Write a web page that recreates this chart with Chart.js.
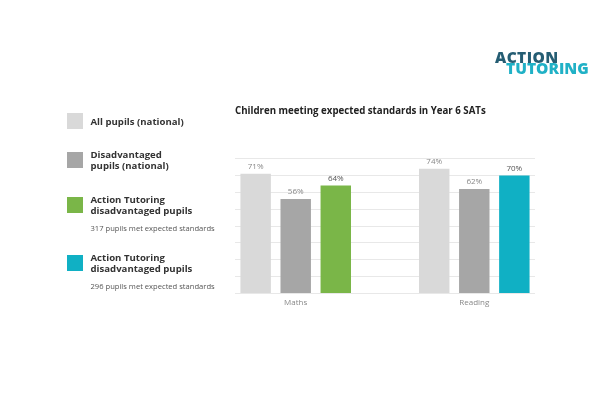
<!DOCTYPE html>
<html>
<head>
<meta charset="utf-8">
<script src="https://cdn.jsdelivr.net/npm/chart.js@4"></script>
<style>
  html, body { margin: 0; padding: 0; background: #fff; }
  body { width: 600px; height: 400px; position: relative; overflow: hidden; font-family: "Open Sans", sans-serif; }
  #chart { position: absolute; left: 0; top: 0; }
  .logo { position: absolute; font-weight: 800; line-height: 1; }
  .logo.top { left: 495px; top: 49.5px; font-size: 15.5px; color: #255d73; letter-spacing: 0.4px; }
  .logo.bottom { left: 506px; top: 61px; font-size: 15.5px; color: #20b1c6; }
  .legend-item { position: absolute; left: 67px; }
  .legend-item:nth-child(1) { top: 113px; }
  .legend-item:nth-child(2) { top: 149px; }
  .legend-item:nth-child(3) { top: 193.5px; }
  .legend-item:nth-child(4) { top: 252px; }
  .legend-row { display: flex; align-items: center; }
  .swatch { width: 16px; height: 16px; margin-right: 7.5px; flex: none; }
  .legend-name { font-size: 9.6px; font-weight: 700; line-height: 11px; color: #333; white-space: pre-line; }
  .legend-note { margin: 8px 0 0 23.5px; font-size: 7.6px; line-height: 9px; color: #555; white-space: nowrap; }
</style>
</head>
<body>
<canvas id="chart" width="600" height="400"></canvas>
<div id="legend"></div>
<div class="logo top">ACTION</div>
<div class="logo bottom">TUTORING</div>
<script>
const subjects = ['Maths', 'Reading'];
const allPupils = [71, 74];
const disadvantagedPupils = [56, 62];
const actionTutoringPupils = [64, 70];

const legendNames = ['All pupils (national)', 'Disadvantaged\npupils (national)', 'Action Tutoring\ndisadvantaged pupils', 'Action Tutoring\ndisadvantaged pupils'];
const legendNotes = ['', '', '317 pupils met expected standards', '296 pupils met expected standards'];
const legendColors = ['#d9d9d9', '#a6a6a6', '#7ab648', '#10b0c4'];

// build the html legend
const legendElement = document.getElementById('legend');
legendNames.forEach((name, i) => {
  let item = document.createElement('div');
  item.className = 'legend-item';
  item.innerHTML = '<div class="legend-row"><div class="swatch"></div><div class="legend-name"></div></div>';
  item.querySelector('.swatch').style.background = legendColors[i];
  item.querySelector('.legend-name').textContent = name;
  if (legendNotes[i]) {
    let note = document.createElement('div');
    note.className = 'legend-note';
    note.textContent = legendNotes[i];
    item.appendChild(note);
  }
  legendElement.appendChild(item);
});

// percent labels above every bar
const valueLabels = {
  id: 'valueLabels',
  afterDatasetsDraw(chart) {
    const ctx = chart.ctx;
    ctx.save();
    ctx.font = '8px "Open Sans"';
    ctx.textAlign = 'center';
    ctx.textBaseline = 'middle';
    chart.data.datasets.forEach((ds, d) => {
      ctx.fillStyle = d === 2 ? '#555' : '#888';
      chart.getDatasetMeta(d).data.forEach((bar, i) => {
        ctx.fillText(ds.data[i] + '%', bar.x, bar.y - 7);
      });
    });
    ctx.restore();
  }
};

var ctx = document.getElementById('chart').getContext('2d');

var myChart = new Chart(ctx, {
  type: 'bar',
  data: {
    labels: subjects.map((s, i) => i),
    datasets: [
      { label: legendNames[0], data: allPupils, backgroundColor: legendColors[0] },
      { label: legendNames[1], data: disadvantagedPupils, backgroundColor: legendColors[1] },
      { label: legendNames[2], data: actionTutoringPupils, backgroundColor: [legendColors[2], legendColors[3]] }
    ]
  },
  options: {
    responsive: false,
    animation: false,
    events: [],
    categoryPercentage: 0.673,
    barPercentage: 0.76,
    layout: { padding: { left: 235, right: 65, top: 105, bottom: 87 } },
    plugins: {
      legend: { display: false },
      tooltip: { enabled: false },
      title: {
        display: true,
        text: 'Children meeting expected standards in Year 6 SATs',
        align: 'start',
        color: '#222',
        font: { family: '"Open Sans"', size: 9.7, weight: 'bold' },
        padding: { top: 0, bottom: 42 }
      }
    },
    scales: {
      x: {
        type: 'linear',
        offset: false,
        min: -0.34,
        max: 1.34,
        grid: { display: false, drawTicks: false },
        border: { display: false },
        afterBuildTicks: (scale) => { scale.ticks = subjects.map((s, i) => ({ value: i })); },
        ticks: {
          autoSkip: false,
          padding: 5,
          color: '#888',
          font: { family: '"Open Sans"', size: 8 },
          callback: (value) => subjects[value]
        }
      },
      y: {
        min: 0,
        max: 80,
        ticks: { display: false, stepSize: 10 },
        grid: { color: '#e8e8e8', drawTicks: false },
        border: { display: false }
      }
    }
  },
  plugins: [valueLabels]
});
</script>
</body>
</html>
